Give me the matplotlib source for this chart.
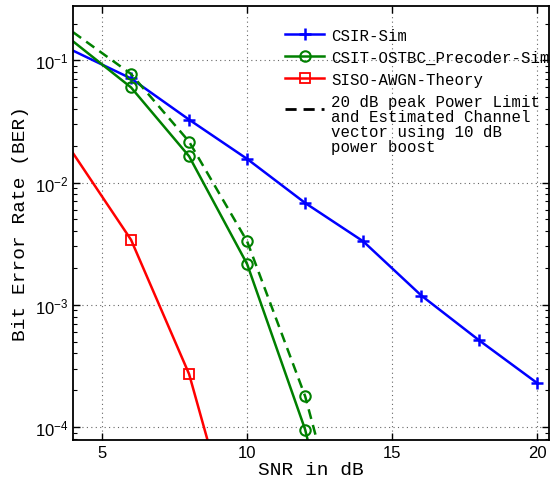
import numpy as np
import matplotlib
matplotlib.use("Agg")
import matplotlib.pyplot as plt
from matplotlib.lines import Line2D
from matplotlib.legend_handler import HandlerLine2D

# BER curves
snr_csir = [4, 6, 8, 10, 12, 14, 16, 18, 20]
ber_csir = [0.12, 0.071, 0.0327, 0.0156, 0.0068, 0.0033, 0.00119, 0.00051, 0.000228]

snr_csit = [4, 6, 8, 10, 12, 14]
ber_csit = [0.143, 0.060, 0.0164, 0.00215, 9.5e-5, 1e-6]
ber_csit_limit = [0.17, 0.0773, 0.0216, 0.0033, 1.78e-4, 3e-6]

snr_siso = [4, 6, 8, 10]
ber_siso = [0.0174, 0.0034, 2.71e-4, 5.4e-6]

labels = ["CSIR-Sim", "CSIT-OSTBC_Precoder-Sim", "SISO-AWGN-Theory",
          "20 dB peak Power Limit\nand Estimated Channel\nvector using 10 dB\npower boost"]

plt.rcParams['font.family'] = ['Liberation Sans', 'DejaVu Sans']
plt.rcParams['axes.unicode_minus'] = False
mono = 'Liberation Mono'


class OffsetLineHandler(HandlerLine2D):
    # moves the legend line up so it sits beside the first lines of a multi-line label
    def __init__(self, dy, **kw):
        super().__init__(**kw)
        self.dy = dy

    def create_artists(self, legend, orig_handle, xdescent, ydescent,
                       width, height, fontsize, trans):
        arts = super().create_artists(legend, orig_handle, xdescent, ydescent,
                                      width, height, fontsize, trans)
        for a in arts:
            a.set_ydata(np.asarray(a.get_ydata()) + self.dy * fontsize)
        return arts


fig = plt.figure(figsize=(5.5, 4.81), dpi=100)
ax = fig.add_axes([0.1327, 0.0838, 0.8655, 0.9016])

lw = 1.8
ax.semilogy(snr_csir, ber_csir, color='#0000ff', lw=lw, marker='+', ms=9, mew=1.8,
            markevery=slice(1, None))
ax.semilogy(snr_csit, ber_csit, color='#008000', lw=lw, marker='o', ms=7.5, mew=1.5,
            mfc='none', markevery=slice(1, None))
ax.semilogy(snr_csit, ber_csit_limit, color='#008000', lw=lw, ls='--', marker='o', ms=7.5,
            mew=1.5, mfc='none', markevery=slice(1, None), dashes=(4, 2.5))
ax.semilogy(snr_siso, ber_siso, color='#ff0000', lw=lw, marker='s', ms=6.5, mew=1.3,
            mfc='none', markevery=slice(1, None))

ax.set_xlim(4, 20.4)
ax.set_ylim(7.87e-5, 0.278)
ax.set_xticks([5, 10, 15, 20])

ax.grid(True, which='major', ls=(0, (1, 3)), color='0.4', lw=0.8)
ax.tick_params(which='both', direction='in', top=True, right=True, labelsize=12)
ax.tick_params(which='major', length=5, width=1)
ax.tick_params(which='minor', length=3, width=0.8)
for s in ax.spines.values():
    s.set_linewidth(1.3)

ax.set_xlabel("SNR in dB", fontfamily=mono, fontsize=14, labelpad=1)
ax.set_ylabel("Bit Error Rate (BER)", fontfamily=mono, fontsize=14, labelpad=4)

handles = [
    Line2D([], [], color='#0000ff', lw=lw, marker='+', ms=9, mew=1.8),
    Line2D([], [], color='#008000', lw=lw, marker='o', ms=7.5, mew=1.5, mfc='none'),
    Line2D([], [], color='#ff0000', lw=lw, marker='s', ms=6.5, mew=1.3, mfc='none'),
    Line2D([], [], color='k', lw=2, ls='--', dashes=(4, 2.5)),
]
leg = fig.legend(handles, labels, loc='upper left', bbox_to_anchor=(0.518, 0.940),
                 frameon=False, borderpad=0, borderaxespad=0,
                 prop={'family': mono, 'size': 11.3}, handlelength=2.5,
                 handletextpad=0.45, labelspacing=0.45,
                 handler_map={handles[3]: OffsetLineHandler(dy=1.0)})
leg.get_texts()[3].set_linespacing(1.0)

fig.savefig("out.png", dpi=100)
